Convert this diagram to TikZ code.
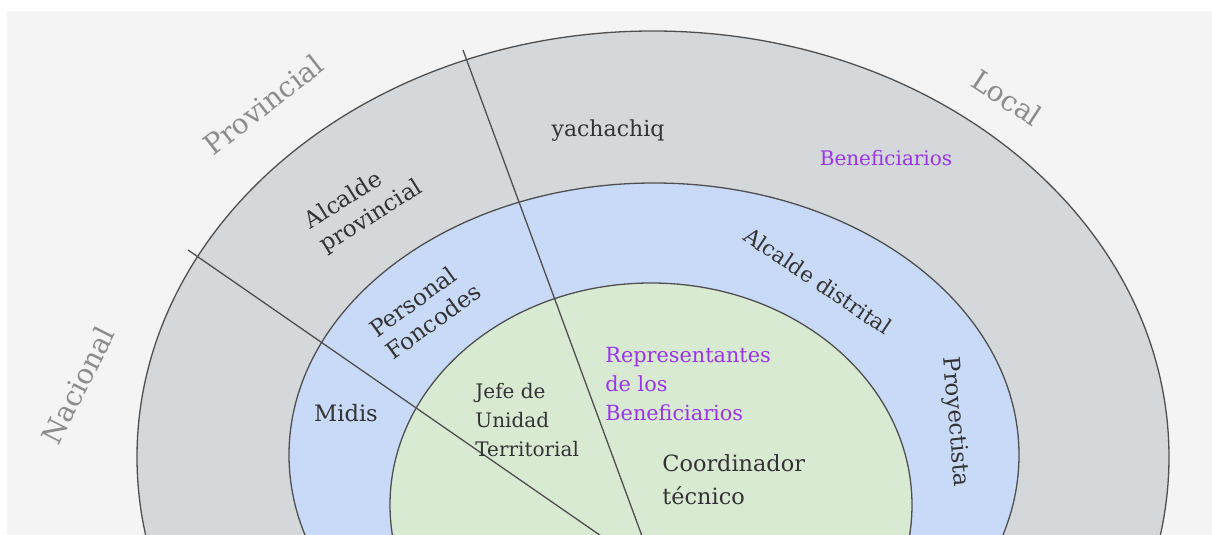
\documentclass[tikz,border=0pt]{standalone}
\usepackage{fontspec}
\setmainfont{DejaVu Serif}
\usetikzlibrary{positioning}
\definecolor{fondo}{HTML}{F4F4F4}
\definecolor{anillo}{HTML}{D4D8DB}
\definecolor{azul}{HTML}{C9DAF8}
\definecolor{verde}{HTML}{D9EAD3}
\definecolor{borde}{HTML}{4F4F4F}
\definecolor{tinta}{HTML}{333333}
\definecolor{nivelgris}{HTML}{8C8C8C}
\definecolor{morado}{HTML}{9933EE}

\begin{document}
\begin{tikzpicture}[x=0.5pt,y=-0.5pt,
  ring/.style={draw=borde,line width=0.65pt},
  cut/.style={draw=borde,line width=0.65pt},
  actor/.style={inner sep=0pt,text=tinta,font=\fontsize{10}{14.5}\selectfont,align=left},
  benef/.style={actor,text=morado},
  nivel/.style={inner sep=0pt,text=nivelgris,font=\fontsize{14}{16}\selectfont}]
  \useasboundingbox (0,0) rectangle (1212,535);
  \clip (0,0) rectangle (1212,535);
  \fill[white] (0,0) rectangle (1212,535);
  \fill[fondo] (7,11) rectangle (1212,535);
  \filldraw[ring,fill=anillo] (653,457) ellipse [x radius=516, y radius=426];
  \filldraw[ring,fill=azul] (654,455) ellipse [x radius=365, y radius=272];
  \filldraw[ring,fill=verde] (651,505) ellipse [x radius=261, y radius=222];
  \coordinate (hub) at (656,574);
  \coordinate (cutNP) at (188,250);
  \coordinate (cutPL) at (463,50);
  \draw[cut] (cutNP) -- (hub);
  \draw[cut] (cutPL) -- (hub);
  \node[nivel,rotate=38] (provincial) at (263,105) {Provincial};
  \node[nivel,rotate=-33] (local) at (1007,98) {Local};
  \node[nivel,rotate=63] (nacional) at (78,385) {Nacional};
  \node[actor,font=\fontsize{11}{14}\selectfont] (yachachiq) at (608,131) {yachachiq};
  \node[benef] (beneficiarios) at (886,158) {Beneficiarios};
  \node[actor,font=\fontsize{11.5}{14}\selectfont,rotate=32] (alcprov) at (364,205) {Alcalde\\provincial};
  \node[actor,font=\fontsize{11.5}{14}\selectfont,rotate=36] (foncodes) at (425,310) {Personal\\Foncodes};
  \node[actor,font=\fontsize{10.7}{14}\selectfont,rotate=-34] (alcdist) at (818,281) {Alcalde distrital};
  \node[actor,font=\fontsize{11.3}{14}\selectfont] (midis) at (346,413) {Midis};
  \node[actor,anchor=west] (jefe) at (475,420) {Jefe de\\Unidad\\Territorial};
  \node[benef,anchor=west,font=\fontsize{10.4}{14.5}\selectfont] (representantes) at (605,384) {Representantes\\de los\\Beneficiarios};
  \node[actor,anchor=west,font=\fontsize{11.2}{16.5}\selectfont] (coordinador) at (662,480) {Coordinador\\técnico};
  \node[actor,font=\fontsize{11.4}{14}\selectfont,rotate=-85] (proyectista) at (955,422) {Proyectista};
\end{tikzpicture}
\end{document}
